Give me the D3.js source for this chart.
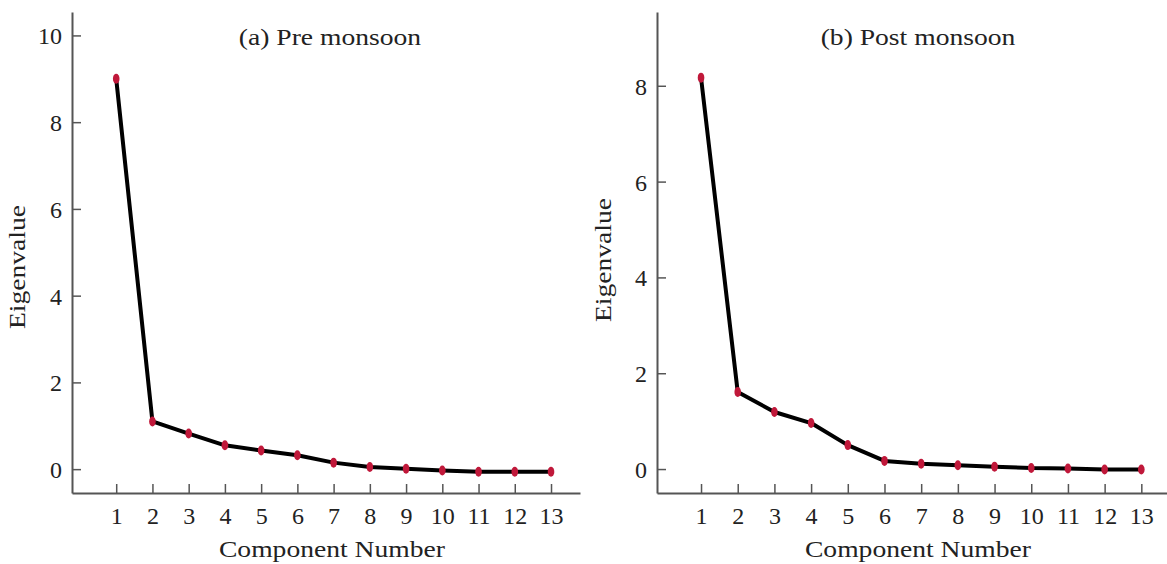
<!DOCTYPE html>
<html>
<head>
<meta charset="utf-8">
<script src="https://cdn.jsdelivr.net/npm/d3@7"></script>
<style>
  body { margin: 0; background: #fff; }
  svg text { font-family: "Liberation Serif", "Times New Roman", serif; fill: #222; }
</style>
</head>
<body>
<script>
// component numbers 1..13
const components = [1, 2, 3, 4, 5, 6, 7, 8, 9, 10, 11, 12, 13];
// eigenvalues
const preMonsoon = [9.0, 1.1, 0.82, 0.55, 0.43, 0.32, 0.15, 0.05, 0.01, -0.03, -0.06, -0.06, -0.06];
const postMonsoon = [8.17, 1.61, 1.19, 0.96, 0.5, 0.17, 0.11, 0.08, 0.05, 0.02, 0.01, -0.01, -0.01];
const preTicks = [0, 2, 4, 6, 8, 10];
const postTicks = [0, 2, 4, 6, 8];

const w = 1167;
const h = 564;

const svg = d3.select("body")
              .append("svg")
              .attr("width", w)
              .attr("height", h);

function panel(opts) {
  const x = d3.scaleLinear().domain(opts.xDomain).range(opts.xRange);
  const y = d3.scaleLinear().domain(opts.yDomain).range([493, 12]);
  const g = svg.append("g");

  // y axis (ticks pointing inward)
  const ya = g.append("g")
    .attr("transform", `translate(${opts.xRange[0]},0)`)
    .call(d3.axisLeft(y).tickValues(opts.yTicks).tickSizeInner(-9).tickSizeOuter(0).tickPadding(10));
  // x axis
  const xa = g.append("g")
    .attr("transform", "translate(0,493)")
    .call(d3.axisBottom(x).tickValues(components).tickSizeInner(-9).tickSizeOuter(0).tickPadding(14));

  [ya, xa].forEach(a => {
    a.select(".domain").attr("stroke", "#555").attr("stroke-width", 2);
    a.selectAll(".tick line").attr("stroke", "#555").attr("stroke-width", 1.5);
    a.selectAll(".tick text").attr("font-size", 24).attr("fill", "#222");
  });
  ya.selectAll(".tick text").attr("dy", "0.35em");

  const line = d3.line()
    .x((d, i) => x(components[i]))
    .y(d => y(d));

  g.append("path")
    .datum(opts.values)
    .attr("fill", "none")
    .attr("stroke", "#000")
    .attr("stroke-width", 4)
    .attr("stroke-linejoin", "round")
    .attr("d", line);

  g.selectAll("ellipse")
    .data(opts.values)
    .enter()
    .append("ellipse")
    .attr("cx", (d, i) => x(components[i]))
    .attr("cy", d => y(d))
    .attr("rx", 3.3)
    .attr("ry", 5)
    .attr("fill", "#c0183a");

  // titles and axis labels, stretched horizontally like the source
  g.append("g")
    .attr("transform", `translate(${opts.titleX},45) scale(1.2,1)`)
    .append("text")
    .attr("text-anchor", "middle")
    .attr("font-size", 23)
    .text(opts.title);

  g.append("g")
    .attr("transform", `translate(${opts.labelX},557) scale(1.15,1)`)
    .append("text")
    .attr("text-anchor", "middle")
    .attr("font-size", 24)
    .text("Component Number");

  g.append("g")
    .attr("transform", `translate(${opts.yLabelX},${opts.yLabelY}) rotate(-90) scale(1.15,1)`)
    .append("text")
    .attr("text-anchor", "middle")
    .attr("font-size", 24)
    .text("Eigenvalue");
}

panel({
  values: preMonsoon,
  xDomain: [-0.22, 13.8], xRange: [72, 580],
  yDomain: [-0.55, 10.54], yTicks: preTicks,
  title: "(a) Pre monsoon", titleX: 330,
  labelX: 332, yLabelX: 25, yLabelY: 267
});

panel({
  values: postMonsoon,
  xDomain: [-0.2, 13.7], xRange: [657, 1167],
  yDomain: [-0.5, 9.54], yTicks: postTicks,
  title: "(b) Post monsoon", titleX: 918,
  labelX: 918, yLabelX: 611, yLabelY: 260
});
</script>
</body>
</html>
